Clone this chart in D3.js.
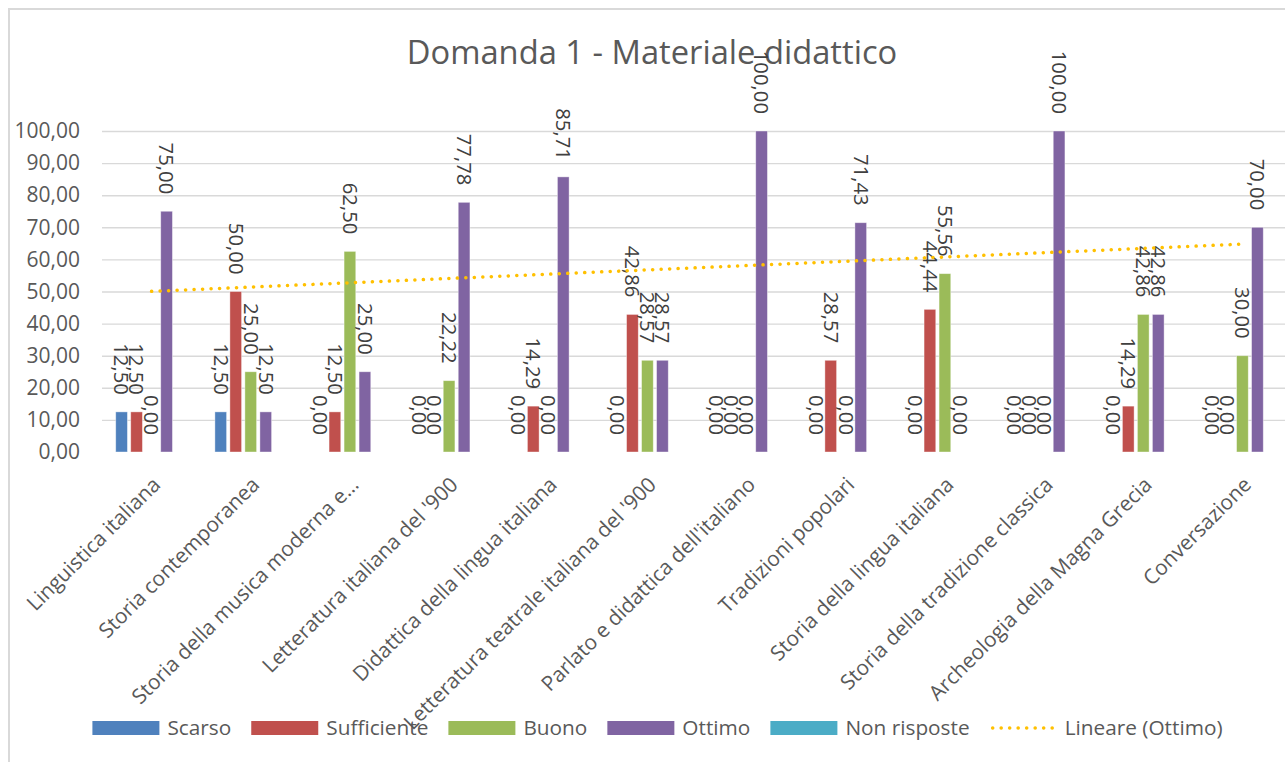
<!DOCTYPE html>
<html>
<head>
<meta charset="utf-8">
<script src="https://cdn.jsdelivr.net/npm/d3@7"></script>
<style>
    body { margin: 0; background: #fff; }
    text { font-family: "Open Sans", sans-serif; }
</style>
</head>
<body>
<svg id="chartSvg" width="1285" height="762"></svg>
<script>
        // categories (courses)
        const categories = [
            'Linguistica italiana',
            'Storia contemporanea',
            'Storia della musica moderna e…',
            "Letteratura italiana del '900",
            'Didattica della lingua italiana',
            "Letteratura teatrale italiana del '900",
            "Parlato e didattica dell'italiano",
            'Tradizioni popolari',
            'Storia della lingua italiana',
            'Storia della tradizione classica',
            'Archeologia della Magna Grecia',
            'Conversazione'
        ];

        // series values (percent)
        const scarso      = [12.5, 12.5, 0, 0, 0, 0, 0, 0, 0, 0, 0, 0];
        const sufficiente = [12.5, 50, 12.5, 0, 14.29, 42.86, 0, 28.57, 44.44, 0, 14.29, 0];
        const buono       = [0, 25, 62.5, 22.22, 0, 28.57, 0, 0, 55.56, 0, 42.86, 30];
        const ottimo      = [75, 12.5, 25, 77.78, 85.71, 28.57, 100, 71.43, 0, 100, 42.86, 70];
        const nonRisposte = [null, null, null, null, null, null, null, null, null, null, null, null];

        const seriesNames = ['Scarso', 'Sufficiente', 'Buono', 'Ottimo', 'Non risposte'];
        const seriesValues = [scarso, sufficiente, buono, ottimo, nonRisposte];
        const seriesColors = ['#4F81BD', '#C0504D', '#9BBB59', '#8064A2', '#4BACC6'];

        const yTicks = [0, 10, 20, 30, 40, 50, 60, 70, 80, 90, 100];

        const svg = d3.select('#chartSvg');
        const width = 1285;
        const height = 762;
        const margin = { top: 131, left: 102 };
        const innerWidth = 1292 - margin.left;   // plot runs past the crop on the right
        const innerHeight = 452 - margin.top;

        const itLocale = d3.formatLocale({ decimal: ',', thousands: '.', grouping: [3], currency: ['€', ''] });
        const fmt = itLocale.format('.2f');

        // chart border (only left/top visible in the crop)
        svg.append('rect')
            .attr('x', 9).attr('y', 9)
            .attr('width', 1300).attr('height', 800)
            .attr('fill', 'none')
            .attr('stroke', '#d9d9d9')
            .attr('stroke-width', 2);

        svg.append('text')
            .attr('x', 652)
            .attr('y', 64)
            .attr('text-anchor', 'middle')
            .style('font-size', '32.7px')
            .style('fill', '#595959')
            .text('Domanda 1 - Materiale didattico');

        const g = svg.append('g')
            .attr('transform', 'translate(' + margin.left + ',' + margin.top + ')');

        const xScale = d3.scaleBand()
            .domain(categories)
            .range([0, innerWidth])
            .padding(0);
        const xSub = d3.scaleBand()
            .domain(seriesNames)
            .range([0, xScale.bandwidth()])
            .paddingInner(0.22)
            .paddingOuter(0.915);
        const yScale = d3.scaleLinear()
            .domain([0, 100])
            .range([innerHeight, 0]);

        // y axis + gridlines
        const yAxis = d3.axisLeft(yScale)
            .tickValues(yTicks)
            .tickFormat(fmt)
            .tickSize(-innerWidth)
            .tickPadding(22);
        const gY = g.append('g').call(yAxis);
        gY.selectAll('.domain').remove();
        gY.selectAll('.tick line')
            .attr('stroke', '#d9d9d9')
            .attr('stroke-width', 1.4)
            .attr('opacity', d => d === 0 ? 0 : 1);
        gY.selectAll('.tick text')
            .style('font-size', '21px')
            .style('fill', '#595959');

        // x axis labels
        const xAxis = d3.axisBottom(xScale).tickSize(0);
        const gX = g.append('g')
            .attr('transform', 'translate(0,' + innerHeight + ')')
            .call(xAxis);
        gX.selectAll('.domain').remove();
        gX.selectAll('.tick text')
            .style('font-size', '20.8px')
            .style('fill', '#595959')
            .style('text-anchor', 'end')
            .attr('y', 0)
            .attr('dy', 0)
            .attr('transform', 'translate(10,34) rotate(-45)');

        // bars
        const groups = g.selectAll('.cat')
            .data(categories)
            .enter()
            .append('g')
            .attr('class', 'cat')
            .attr('transform', d => 'translate(' + xScale(d) + ',0)');

        groups.selectAll('rect')
            .data((d, i) => seriesNames.map((s, j) => ({ s: s, v: seriesValues[j][i], c: seriesColors[j] })))
            .enter()
            .filter(d => d.v !== null)
            .append('rect')
            .attr('x', d => xSub(d.s))
            .attr('width', xSub.bandwidth())
            .attr('y', d => yScale(d.v))
            .attr('height', d => innerHeight - yScale(d.v))
            .attr('fill', d => d.c)
            .attr('stroke', '#ffffff')
            .attr('stroke-opacity', 0.5)
            .attr('stroke-width', 0.8);

        // trend line (linear fit of Ottimo, as Excel does)
        const xs = ottimo.map((v, i) => i + 1);
        const mx = d3.mean(xs), my = d3.mean(ottimo);
        const slope = d3.sum(xs, (x, i) => (x - mx) * (ottimo[i] - my)) / d3.sum(xs, x => (x - mx) * (x - mx));
        const intercept = my - slope * mx;
        const trend = [categories[0], categories[categories.length - 1]].map((c, k) => {
            const xi = k === 0 ? 1 : categories.length;
            return { c: c, v: intercept + slope * xi };
        });
        g.append('path')
            .datum(trend)
            .attr('d', d3.line()
                .x(d => xScale(d.c) + xScale.bandwidth() / 2)
                .y(d => yScale(d.v)))
            .attr('fill', 'none')
            .attr('stroke', '#FFC000')
            .attr('stroke-width', 3.5)
            .attr('stroke-linecap', 'round')
            .attr('stroke-dasharray', '0.1 8.4');

        // data labels, rotated
        groups.selectAll('text.lbl')
            .data((d, i) => seriesNames.map((s, j) => ({ s: s, v: seriesValues[j][i] })))
            .enter()
            .filter(d => d.v !== null)
            .append('text')
            .attr('class', 'lbl')
            .attr('transform', d => 'translate(' + (xSub(d.s) + xSub.bandwidth() / 2) + ',' + (yScale(d.v) - 17) + ') rotate(90)')
            .attr('text-anchor', 'end')
            .attr('dy', '0.35em')
            .style('font-size', '20.3px')
            .style('fill', '#404040')
            .text(d => fmt(d.v));

        // legend
        const legendItems = seriesNames.map((s, j) => ({ name: s, color: seriesColors[j], type: 'box' }))
            .concat([{ name: 'Lineare (Ottimo)', color: '#FFC000', type: 'line' }]);
        const legend = svg.append('g');
        const items = legend.selectAll('g')
            .data(legendItems)
            .enter()
            .append('g');
        items.append('text')
            .attr('x', 75)
            .attr('y', 7)
            .style('font-size', '20.8px')
            .style('fill', '#595959')
            .text(d => d.name);
        let pos = 0;
        items.each(function(d) {
            const w = d3.select(this).select('text').node().getComputedTextLength();
            d3.select(this).attr('transform', 'translate(' + pos + ',0)');
            pos += 75 + w + 20;
        });
        pos -= 20;
        legend.attr('transform', 'translate(' + (657.5 - pos / 2) + ',728)');
        items.filter(d => d.type === 'box')
            .append('rect')
            .attr('x', 0).attr('y', -7)
            .attr('width', 67).attr('height', 14)
            .attr('fill', d => d.color);
        items.filter(d => d.type === 'line')
            .append('line')
            .attr('x1', 3).attr('x2', 64)
            .attr('y1', 0).attr('y2', 0)
            .attr('stroke', d => d.color)
            .attr('stroke-width', 3.5)
            .attr('stroke-linecap', 'round')
            .attr('stroke-dasharray', '0.1 8.4');
</script>
</body>
</html>
